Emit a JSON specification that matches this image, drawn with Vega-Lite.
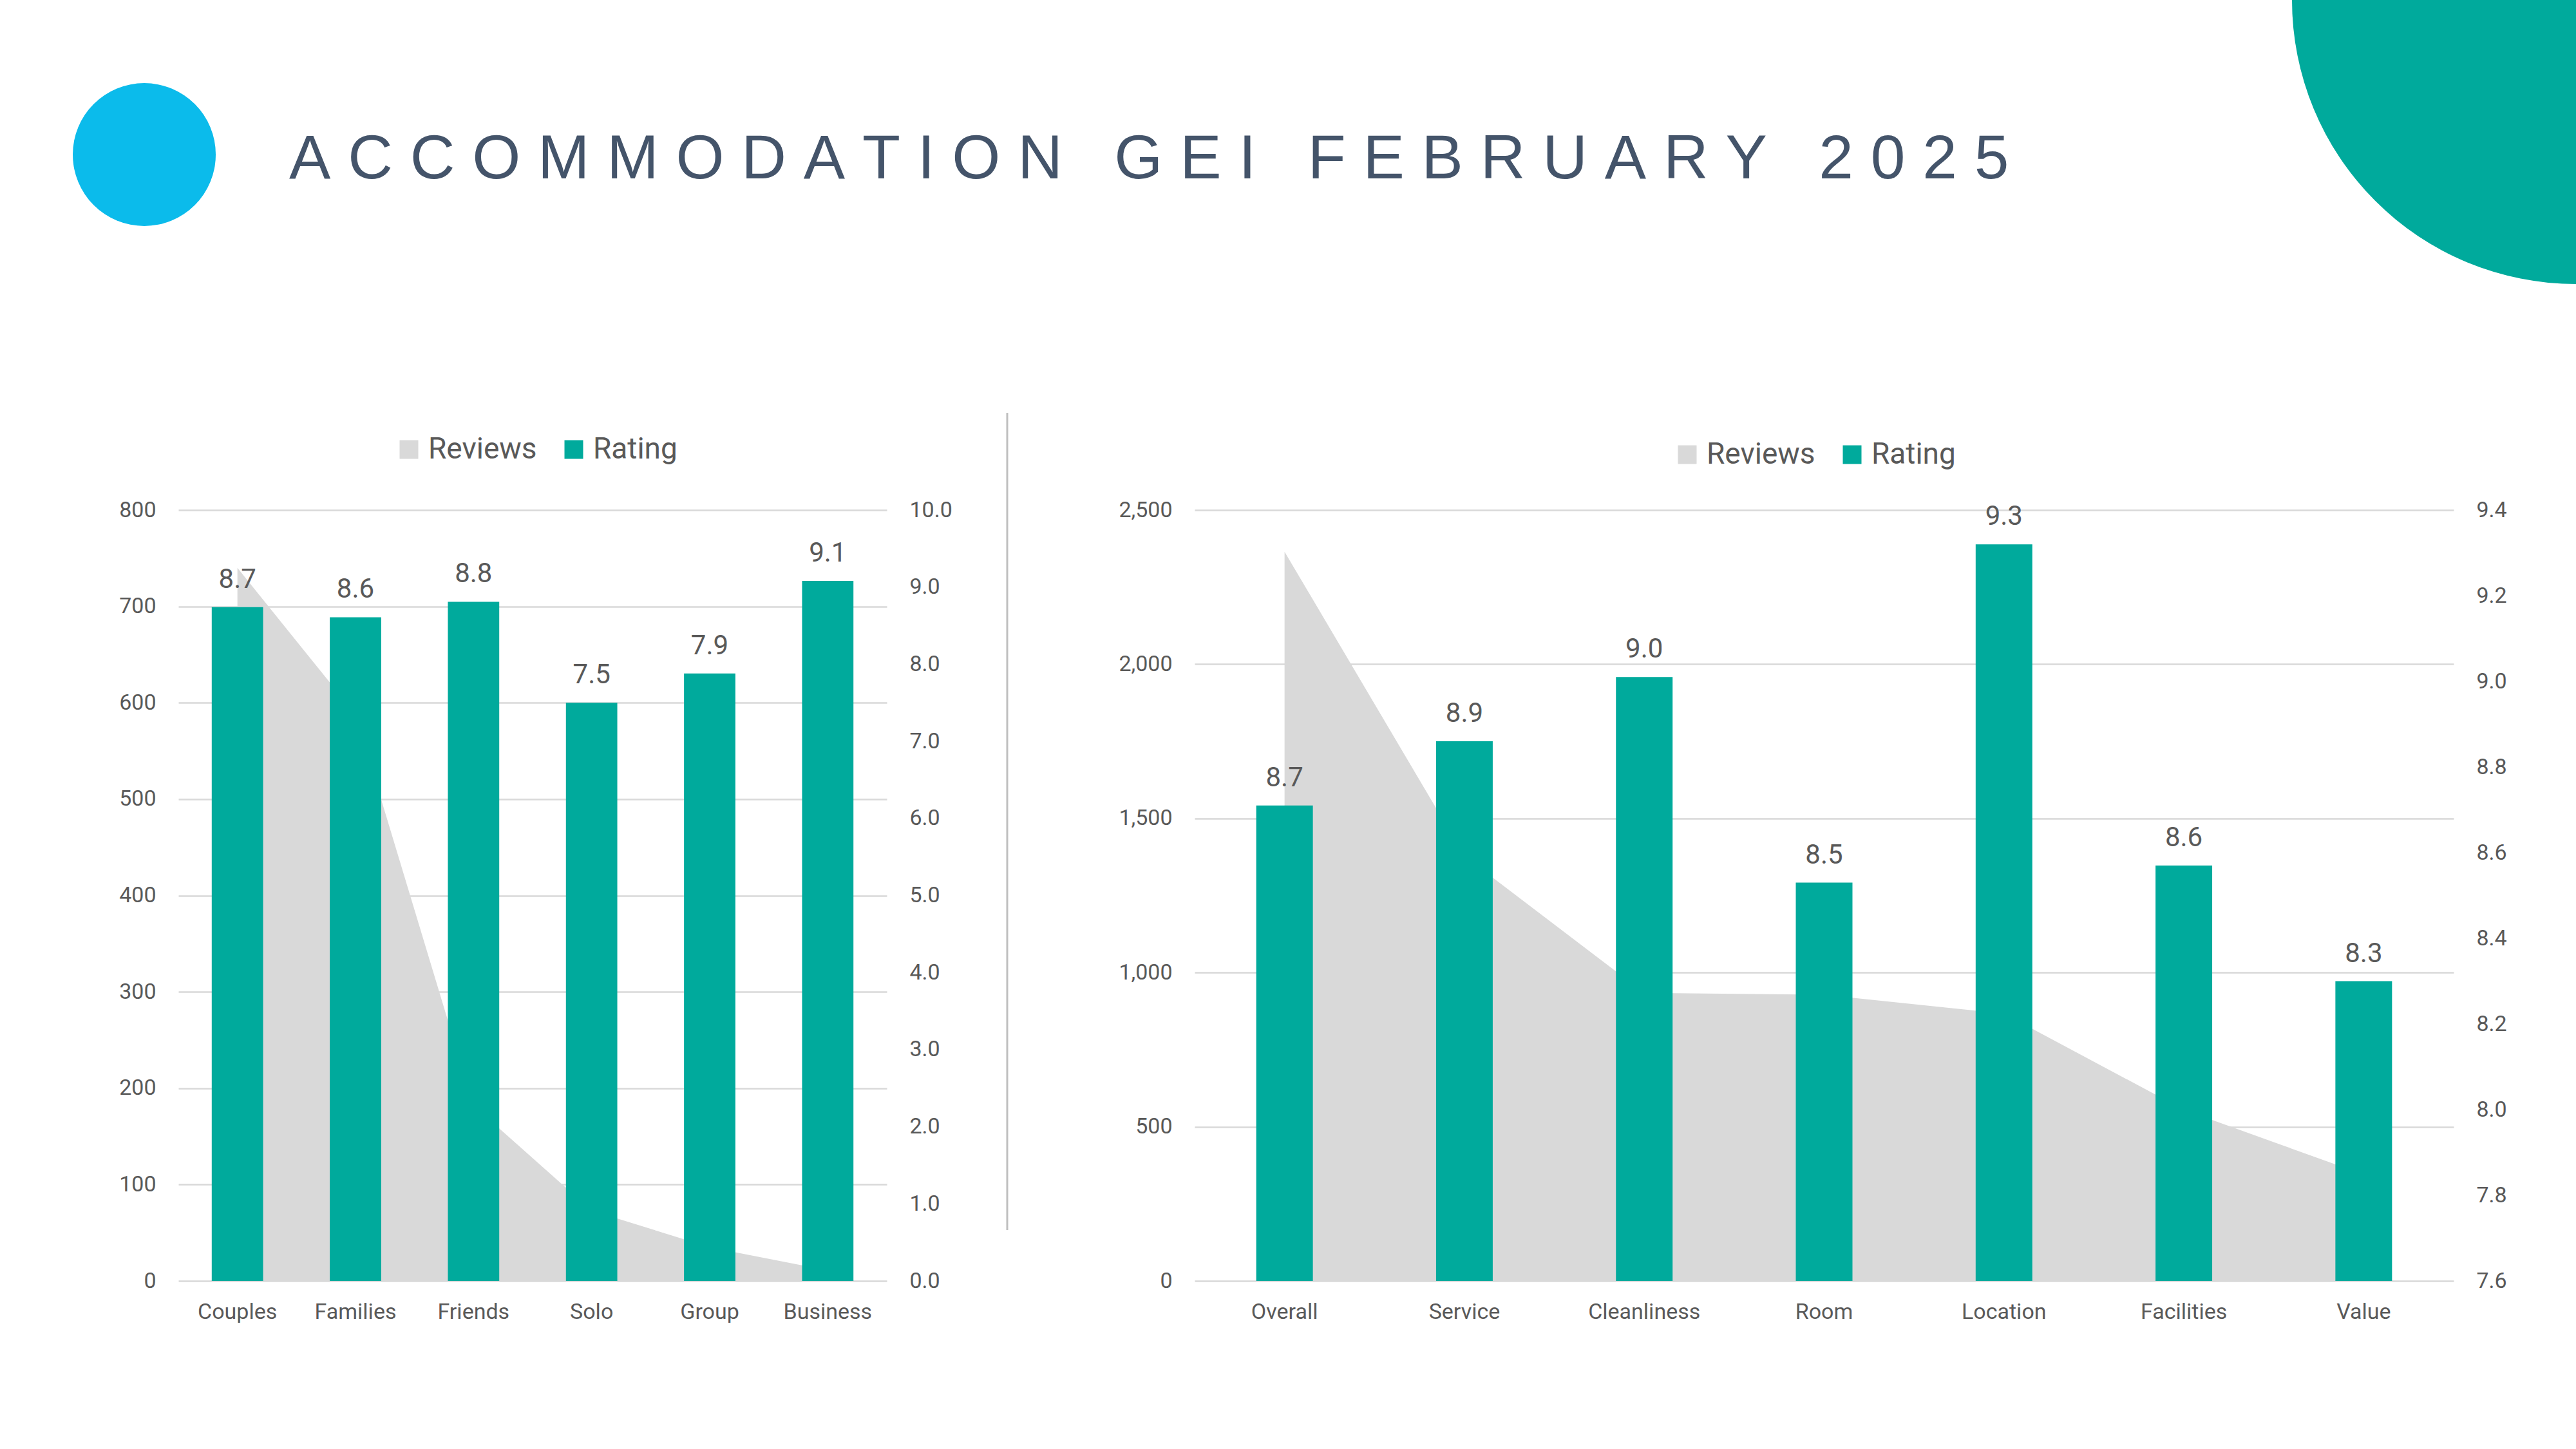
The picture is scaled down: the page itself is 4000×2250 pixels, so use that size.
{
  "$schema": "https://vega.github.io/schema/vega-lite/v6.json",
  "background": "white",
  "padding": 0,
  "spacing": 189,
  "config": {
    "view": {"stroke": null},
    "font": "Roboto",
    "axis": {"domain": false, "ticks": false, "tickSize": 0, "labelFont": "Roboto", "labelFontSize": 34, "labelColor": "#595959", "gridColor": "#D9D9D9", "gridWidth": 2.5, "labelLimit": 400},
    "legend": {"orient": "none", "direction": "horizontal", "symbolType": "square", "symbolSize": 841, "symbolStrokeWidth": 0, "symbolOpacity": 1, "labelFont": "Roboto", "labelFontSize": 46, "labelColor": "#595959", "labelOffset": 7, "columnPadding": 34, "padding": 0, "labelLimit": 400}
  },
  "datasets": {
    "guests": [
      {"segment": "Couples", "reviews": 740, "rating": 8.74},
      {"segment": "Families", "reviews": 588, "rating": 8.61},
      {"segment": "Friends", "reviews": 182, "rating": 8.81},
      {"segment": "Solo", "reviews": 73, "rating": 7.50},
      {"segment": "Group", "reviews": 35, "rating": 7.88},
      {"segment": "Business", "reviews": 11, "rating": 9.08}
    ],
    "aspects": [
      {"aspect": "Overall", "reviews": 2365, "rating": 8.71},
      {"aspect": "Service", "reviews": 1378, "rating": 8.86},
      {"aspect": "Cleanliness", "reviews": 934, "rating": 9.01},
      {"aspect": "Room", "reviews": 928, "rating": 8.53},
      {"aspect": "Location", "reviews": 867, "rating": 9.32},
      {"aspect": "Facilities", "reviews": 555, "rating": 8.57},
      {"aspect": "Value", "reviews": 345, "rating": 8.30}
    ]
  },
  "vconcat": [
    {
      "width": 4000,
      "height": 450,
      "data": {"values": [{}]},
      "layer": [
        {
          "mark": {"type": "point", "shape": "circle", "filled": true, "opacity": 1, "strokeWidth": 0, "size": 49284, "color": "#0BBBEB"},
          "encoding": {
            "x": {"datum": 224, "type": "quantitative", "scale": {"domain": [0, 4000], "nice": false}, "axis": null},
            "y": {"datum": 240, "type": "quantitative", "scale": {"domain": [450, 0], "nice": false, "zero": false}, "axis": null}
          }
        },
        {
          "mark": {"type": "point", "shape": "circle", "filled": true, "opacity": 1, "strokeWidth": 0, "size": 777924, "color": "#00AA9C", "clip": true},
          "encoding": {
            "x": {"datum": 4000, "type": "quantitative", "scale": {"domain": [0, 4000], "nice": false}, "axis": null},
            "y": {"datum": 0, "type": "quantitative", "scale": {"domain": [450, 0], "nice": false, "zero": false}, "axis": null}
          }
        },
        {
          "mark": {"type": "text", "text": "A\u00a0C\u00a0C\u00a0O\u00a0M\u00a0M\u00a0O\u00a0D\u00a0A\u00a0T\u00a0I\u00a0O\u00a0N\u00a0\u00a0\u00a0G\u00a0E\u00a0I\u00a0\u00a0\u00a0F\u00a0E\u00a0B\u00a0R\u00a0U\u00a0A\u00a0R\u00a0Y\u00a0\u00a0\u00a02\u00a00\u00a02\u00a05", "font": "Liberation Sans", "fontSize": 96.5, "color": "#44546A", "align": "left", "baseline": "alphabetic"},
          "encoding": {
            "x": {"datum": 449, "type": "quantitative", "scale": {"domain": [0, 4000], "nice": false}, "axis": null},
            "y": {"datum": 277, "type": "quantitative", "scale": {"domain": [450, 0], "nice": false, "zero": false}, "axis": null}
          }
        }
      ]
    },
    {
      "spacing": 187,
      "bounds": "flush",
      "resolve": {"scale": {"color": "independent"}, "legend": {"color": "independent"}},
      "hconcat": [
        {
          "width": 90,
          "height": 1197,
          "data": {"values": []},
          "mark": "point"
        },
        {
          "width": 1100,
          "height": 1197,
          "data": {"name": "guests"},
          "encoding": {
            "x": {"field": "segment", "type": "nominal", "sort": null, "scale": {"paddingInner": 0, "paddingOuter": 0}, "axis": {"labelAngle": 0, "labelPadding": 31, "title": null, "grid": false}}
          },
          "layer": [
            {
              "mark": {"type": "area", "opacity": 1, "interpolate": "linear"},
              "encoding": {
                "y": {"field": "reviews", "type": "quantitative", "stack": null, "scale": {"domain": [0, 800], "nice": false}, "axis": {"orient": "left", "values": [0, 100, 200, 300, 400, 500, 600, 700, 800], "format": "d", "grid": true, "labelPadding": 35, "title": null}},
                "color": {"datum": "Reviews", "scale": {"domain": ["Reviews", "Rating"], "range": ["#D9D9D9", "#00AA9C"]}, "legend": {"title": null, "legendX": 335, "legendY": -117}}
              }
            },
            {
              "layer": [
                {
                  "mark": {"type": "bar", "width": {"band": 0.435}, "opacity": 1},
                  "encoding": {
                    "y": {"field": "rating", "type": "quantitative", "scale": {"domain": [0, 10], "nice": false}, "axis": {"orient": "right", "values": [0, 1, 2, 3, 4, 5, 6, 7, 8, 9, 10], "format": ".1f", "grid": false, "labelPadding": 35, "title": null}},
                    "y2": {"datum": 0},
                    "color": {"datum": "Rating"}
                  }
                },
                {
                  "mark": {"type": "text", "dy": -30, "baseline": "alphabetic", "fontSize": 42, "color": "#595959", "font": "Roboto"},
                  "encoding": {
                    "y": {"field": "rating", "type": "quantitative", "scale": {"domain": [0, 10], "nice": false}},
                    "text": {"field": "rating", "type": "quantitative", "format": ".1f"}
                  }
                }
              ]
            }
          ],
          "resolve": {"scale": {"y": "independent"}}
        },
        {
          "width": 104,
          "height": 1197,
          "data": {"values": [{}]},
          "mark": {"type": "rule", "color": "#BFBFBF", "strokeWidth": 3},
          "encoding": {
            "x": {"datum": 0, "type": "quantitative", "scale": {"domain": [0, 1], "nice": false}, "axis": null},
            "y": {"datum": 1348, "type": "quantitative", "scale": {"domain": [0, 1197], "nice": false, "zero": false}, "axis": null},
            "y2": {"datum": 79}
          }
        },
        {
          "width": 1955,
          "height": 1197,
          "data": {"name": "aspects"},
          "encoding": {
            "x": {"field": "aspect", "type": "nominal", "sort": null, "scale": {"paddingInner": 0, "paddingOuter": 0}, "axis": {"labelAngle": 0, "labelPadding": 31, "title": null, "grid": false}}
          },
          "layer": [
            {
              "mark": {"type": "area", "opacity": 1, "interpolate": "linear"},
              "encoding": {
                "y": {"field": "reviews", "type": "quantitative", "stack": null, "scale": {"domain": [0, 2500], "nice": false}, "axis": {"orient": "left", "values": [0, 500, 1000, 1500, 2000, 2500], "format": ",.0f", "grid": true, "labelPadding": 35, "title": null}},
                "color": {"datum": "Reviews", "scale": {"domain": ["Reviews", "Rating"], "range": ["#D9D9D9", "#00AA9C"]}, "legend": {"title": null, "legendX": 742, "legendY": -109}}
              }
            },
            {
              "layer": [
                {
                  "mark": {"type": "bar", "width": {"band": 0.315}, "opacity": 1},
                  "encoding": {
                    "y": {"field": "rating", "type": "quantitative", "scale": {"domain": [7.6, 9.4], "nice": false, "zero": false}, "axis": {"orient": "right", "values": [7.6, 7.8, 8.0, 8.2, 8.4, 8.6, 8.8, 9.0, 9.2, 9.4], "format": ".1f", "grid": false, "labelPadding": 35, "title": null}},
                    "y2": {"datum": 7.6},
                    "color": {"datum": "Rating"}
                  }
                },
                {
                  "mark": {"type": "text", "dy": -30, "baseline": "alphabetic", "fontSize": 42, "color": "#595959", "font": "Roboto"},
                  "encoding": {
                    "y": {"field": "rating", "type": "quantitative", "scale": {"domain": [7.6, 9.4], "nice": false, "zero": false}},
                    "text": {"field": "rating", "type": "quantitative", "format": ".1f"}
                  }
                }
              ]
            }
          ],
          "resolve": {"scale": {"y": "independent"}}
        }
      ]
    }
  ]
}
